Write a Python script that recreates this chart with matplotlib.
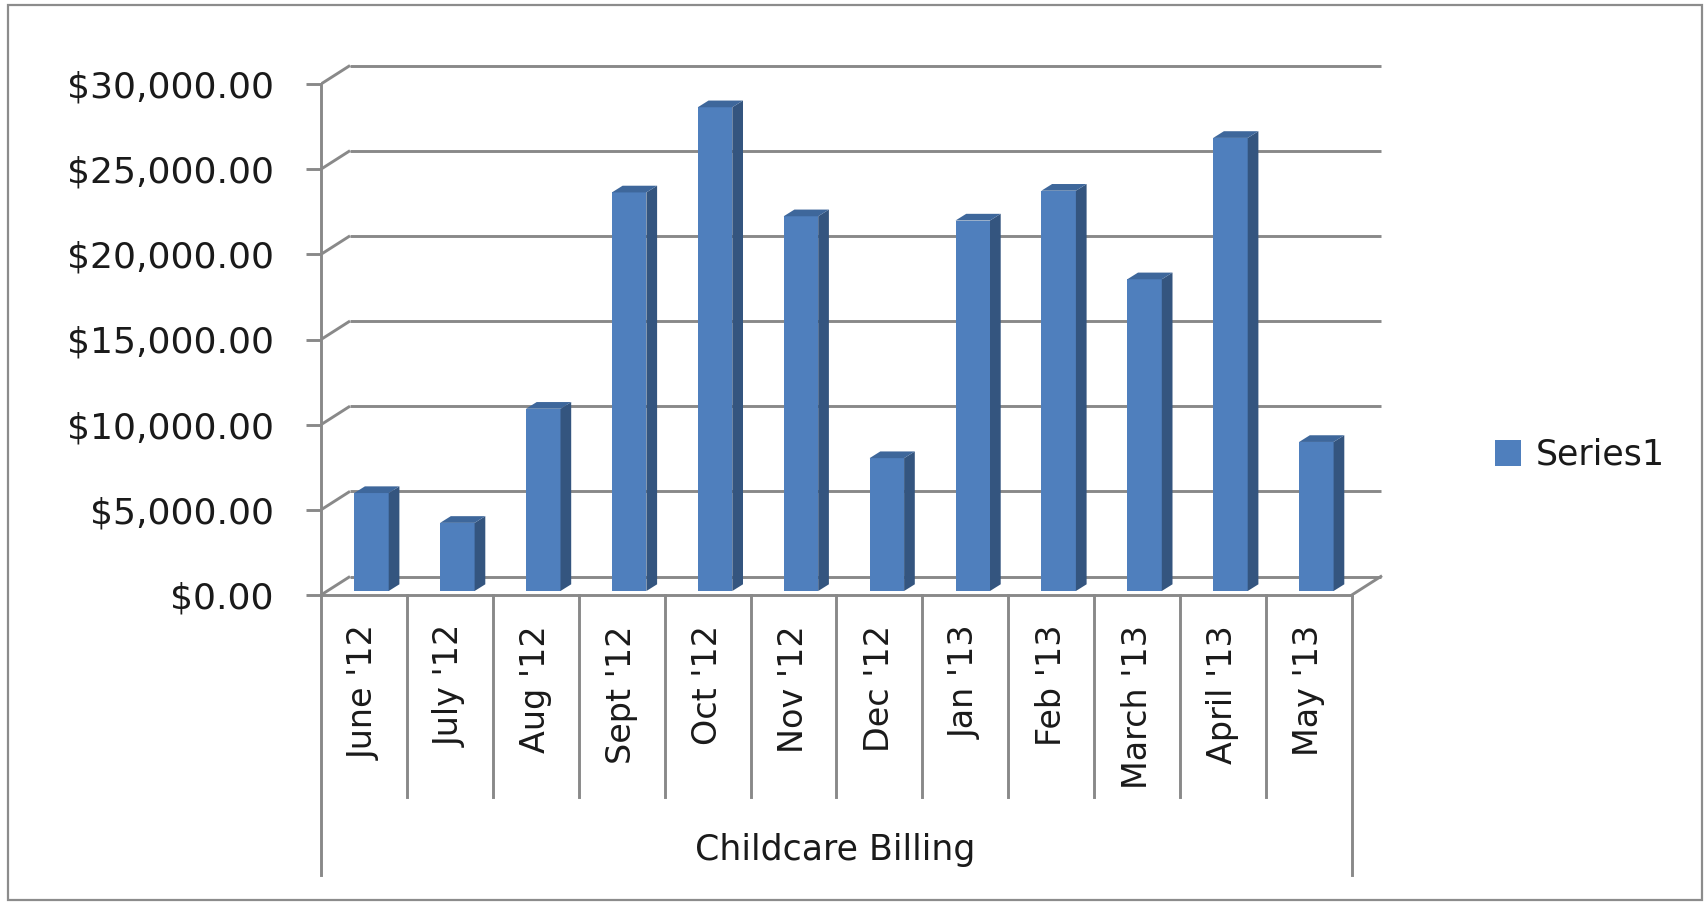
import numpy as np
import matplotlib
matplotlib.use("Agg")
import matplotlib.pyplot as plt
from matplotlib.patches import Polygon, Rectangle
from matplotlib.ticker import FuncFormatter

# data
months = ["June '12", "July '12", "Aug '12", "Sept '12", "Oct '12", "Nov '12",
          "Dec '12", "Jan '13", "Feb '13", "March '13", "April '13", "May '13"]
billing = [5750, 4000, 10700, 23400, 28400, 22000, 7800, 21750, 23500, 18300, 26600, 8750]
y_ticks = [0, 5000, 10000, 15000, 20000, 25000, 30000]
series_name = "Series1"
axis_title = "Childcare Billing"

W, H = 1705, 902
# pixel geometry of the front plane
X0, Y0 = 321, 595          # front-left corner of the floor (px)
PX_U = 85.9                # px per category
PX_V = 511 / 30000         # px per dollar

def v_of(px):
    return px / PX_V

def u_of(px):
    return px / PX_U

DX = u_of(29)              # wall depth
DY = v_of(18.5)

grid_c = "#898989"
front_c = "#4F7FBD"
side_c = "#34557F"
top_c = "#3E679B"
txt_c = "#1A1A1A"
lw = 2.1

fig = plt.figure(figsize=(W / 100, H / 100), dpi=100)
fig.patch.set_facecolor("white")
fig.patches.append(Rectangle((8 / W, 2 / H), (1702 - 8) / W, (897 - 2) / H,
                             transform=fig.transFigure, fill=False,
                             edgecolor="#8C8C8C", lw=1.6))

xmax = 12.4
top_px = 50
ax = fig.add_axes([X0 / W, (H - Y0) / H, xmax * PX_U / W, (Y0 - top_px) / H])
ax.set_xlim(0, xmax)
ax.set_ylim(0, v_of(Y0 - top_px))
ax.patch.set_alpha(0)

n = len(months)

# back wall and side wall gridlines
for v in y_ticks:
    ax.plot([0, DX], [v, v + DY], color=grid_c, lw=lw, zorder=1, solid_capstyle="butt")
    ax.plot([DX, n + DX], [v + DY, v + DY], color=grid_c, lw=lw, zorder=1, solid_capstyle="butt")
ax.plot([n, n + DX], [0, DY], color=grid_c, lw=lw, zorder=1)

# bars with fake depth
bw = u_of(34.5)
bdx, bdy = u_of(10.7), v_of(6.7)
xs = np.arange(n) + 0.5 + u_of(7.5)
base = v_of(4)
bars = ax.bar(xs, billing, width=bw, bottom=base, color=front_c, zorder=3, label=series_name)
for x, val in zip(xs, billing):
    xl, xr = x - bw / 2, x + bw / 2
    top = base + val
    ax.add_patch(Polygon([[xr, base], [xr + bdx, base + bdy],
                          [xr + bdx, top + bdy], [xr, top]],
                         closed=True, facecolor=side_c, edgecolor="none", zorder=3))
    ax.add_patch(Polygon([[xl, top], [xr, top], [xr + bdx, top + bdy],
                          [xl + bdx, top + bdy]],
                         closed=True, facecolor=top_c, edgecolor="none", zorder=3))

# axes lines
for s in ["top", "right"]:
    ax.spines[s].set_visible(False)
ax.spines["left"].set_bounds(0, 30000)
ax.spines["bottom"].set_bounds(0, n)
for s in ["left", "bottom"]:
    ax.spines[s].set_color(grid_c)
    ax.spines[s].set_linewidth(lw)
    ax.spines[s].set_zorder(2)

ax.set_yticks(y_ticks)
ax.yaxis.set_major_formatter(FuncFormatter(lambda v, p: "${:,.2f}".format(v)))
ax.tick_params(axis="y", length=11, width=lw, color=grid_c, pad=23,
               labelsize=26, labelcolor=txt_c)
ax.set_xticks([])

# category table below the floor
inner = -v_of(797 - Y0)
outer = -v_of(875 - Y0)
for i in range(n + 1):
    low = outer if i in (0, n) else inner
    ax.plot([i, i], [0, low], color=grid_c, lw=lw, clip_on=False, zorder=2)
for i, m in enumerate(months):
    ax.text(i + 0.5, -v_of(625 - Y0), m, rotation=90, ha="center", va="top",
            fontsize=24, color=txt_c, clip_on=False)

fig.text(835 / W, 1 - 850 / H, axis_title, ha="center", va="center",
         fontsize=25, color=txt_c)

fig.legend(handles=[bars], labels=[series_name], loc="center left",
           bbox_to_anchor=(1478 / W, 1 - 455 / H), frameon=False, fontsize=25,
           handlelength=0.75, handleheight=0.75, handletextpad=0.4,
           borderpad=0, labelcolor=txt_c)

fig.savefig("out.png", dpi=100)
